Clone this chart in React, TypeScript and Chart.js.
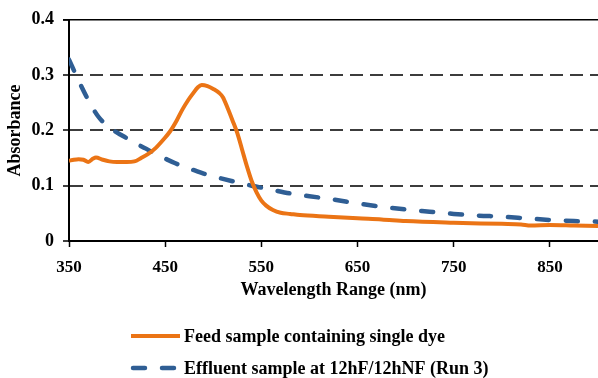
import React, { useEffect, useRef } from "react";
import { Chart, registerables } from "chart.js";

Chart.register(...registerables);

const feedWavelengths = [350, 355, 360, 365, 370, 375, 378, 385, 392, 400, 410, 418, 425, 432, 440, 448, 455, 462, 468, 474, 479, 484, 488, 494, 500, 506, 510, 515, 520, 525, 530, 535, 540, 545, 550, 555, 562, 570, 580, 590, 620, 650, 675, 700, 750, 800, 820, 830, 850, 875, 900];
const feedAbsorbance = [0.145, 0.147, 0.148, 0.147, 0.143, 0.149, 0.151, 0.147, 0.144, 0.143, 0.143, 0.144, 0.15, 0.157, 0.168, 0.183, 0.198, 0.218, 0.238, 0.255, 0.267, 0.278, 0.282, 0.28, 0.275, 0.268, 0.26, 0.24, 0.218, 0.195, 0.165, 0.135, 0.108, 0.088, 0.073, 0.064, 0.056, 0.051, 0.049, 0.047, 0.044, 0.041, 0.039, 0.036, 0.033, 0.031, 0.03, 0.028, 0.029, 0.028, 0.027];

const effluentWavelengths = [350, 360, 370, 380, 390, 400, 410, 420, 430, 440, 450, 460, 470, 480, 490, 500, 520, 540, 560, 580, 600, 625, 650, 675, 700, 725, 750, 775, 800, 825, 850, 875, 900];
const effluentAbsorbance = [0.328, 0.29, 0.255, 0.226, 0.208, 0.196, 0.186, 0.176, 0.167, 0.157, 0.149, 0.141, 0.134, 0.128, 0.122, 0.117, 0.108, 0.1, 0.093, 0.086, 0.081, 0.075, 0.068, 0.062, 0.057, 0.053, 0.049, 0.046, 0.044, 0.041, 0.038, 0.036, 0.035];

const seriesLabels = ["Feed sample containing single dye", "Effluent sample at 12hF/12hNF (Run 3)"];
const xTickValues = [350, 450, 550, 650, 750, 850];
const yTickValues = [0, 0.1, 0.2, 0.3, 0.4];
const xTitle = "Wavelength Range (nm)";
const yTitle = "Absorbance";

const SERIF = '"Liberation Serif", "Times New Roman", serif';

const stackedLegend = {
  id: "stackedLegend",
  afterDraw(chart: any) {
    const ctx = chart.ctx;
    const ca = chart.chartArea;
    ctx.save();
    // solid top line at the axis max
    const yTop = chart.scales.y.getPixelForValue(chart.scales.y.max);
    ctx.beginPath();
    ctx.setLineDash([]);
    ctx.strokeStyle = "#000";
    ctx.lineWidth = 1.5;
    ctx.moveTo(ca.left - 6, yTop);
    ctx.lineTo(ca.right, yTop);
    ctx.stroke();
    chart.data.datasets.forEach((ds: any, i: number) => {
      const y = 336 + i * 32;
      ctx.beginPath();
      ctx.setLineDash(ds.borderDash || []);
      ctx.lineCap = ds.borderCapStyle || "butt";
      ctx.strokeStyle = ds.borderColor;
      ctx.lineWidth = ds.borderWidth;
      ctx.moveTo(i === 0 ? 131 : 133, y);
      ctx.lineTo(180, y);
      ctx.stroke();
      ctx.setLineDash([]);
      ctx.fillStyle = "#000";
      ctx.font = "bold 18px " + SERIF;
      ctx.textBaseline = "middle";
      ctx.textAlign = "left";
      ctx.fillText(ds.label, 184, y + 1);
    });
    ctx.restore();
  },
};

export default function App() {
  const ref = useRef<HTMLCanvasElement | null>(null);
  useEffect(() => {
    document.body.style.margin = "0";
    if (!ref.current) return;
    const feedPts = feedWavelengths.map((x, i) => ({ x, y: feedAbsorbance[i] }));
    const effPts = effluentWavelengths.map((x, i) => ({ x, y: effluentAbsorbance[i] }));
    const chart = new Chart(ref.current, {
      type: "line",
      data: {
        datasets: [
          {
            label: seriesLabels[0],
            data: feedPts,
            borderColor: "#EB7415",
            backgroundColor: "#EB7415",
            borderWidth: 4,
            pointRadius: 0,
            cubicInterpolationMode: "monotone",
            fill: false,
          },
          {
            label: seriesLabels[1],
            data: effPts,
            borderColor: "#2F5E94",
            backgroundColor: "#2F5E94",
            borderWidth: 4.5,
            borderDash: [12, 17],
            borderCapStyle: "round",
            pointRadius: 0,
            cubicInterpolationMode: "monotone",
            fill: false,
          },
        ],
      },
      options: {
        responsive: false,
        animation: false,
        layout: { padding: { left: 0, right: 0, top: 18, bottom: 77 } },
        plugins: { legend: { display: false }, tooltip: { enabled: false } },
        scales: {
          x: {
            type: "linear",
            min: 350,
            max: 900,
            afterBuildTicks: (s: any) => {
              s.ticks = xTickValues.map((v) => ({ value: v }));
            },
            afterFit: (s: any) => {
              s.height = 60;
            },
            ticks: {
              color: "#000",
              font: { family: SERIF, size: 17, weight: "bold" },
              padding: 10,
              maxRotation: 0,
            },
            grid: {
              drawOnChartArea: false,
              drawTicks: true,
              tickLength: 6,
              color: "#000",
              tickWidth: 1.5,
            },
            border: { display: true, color: "#000", width: 2 },
            title: {
              display: true,
              text: xTitle,
              color: "#000",
              font: { family: SERIF, size: 18, weight: "bold" },
              padding: { top: 0, bottom: 0 },
            },
          },
          y: {
            min: 0,
            max: 0.4,
            afterBuildTicks: (s: any) => {
              s.ticks = yTickValues.map((v) => ({ value: v }));
            },
            afterFit: (s: any) => {
              s.width = 69;
            },
            ticks: {
              color: "#000",
              font: { family: SERIF, size: 18, weight: "bold" },
              padding: 9,
              callback: (v: any) => String(Math.round(Number(v) * 10) / 10),
            },
            grid: {
              color: (c: any) => (c.tick && (c.tick.value === 0 || c.tick.value === 0.4) ? "rgba(0,0,0,0)" : "#3C3C3C"),
              lineWidth: 2,
              tickLength: 6,
              tickColor: "#000",
              tickWidth: 1.5,
              tickBorderDash: [],
            },
            border: { display: true, color: "#000", width: 2, dash: [13, 7] },
            title: {
              display: true,
              text: yTitle,
              color: "#000",
              font: { family: SERIF, size: 18, weight: "bold" },
              padding: { top: 5, bottom: 0 },
            },
          },
        },
      },
      plugins: [stackedLegend],
    } as any);
    return () => chart.destroy();
  }, []);
  return (
    <div style={{ width: 598, height: 378 }}>
      <canvas ref={ref} width={598} height={378} />
    </div>
  );
}
